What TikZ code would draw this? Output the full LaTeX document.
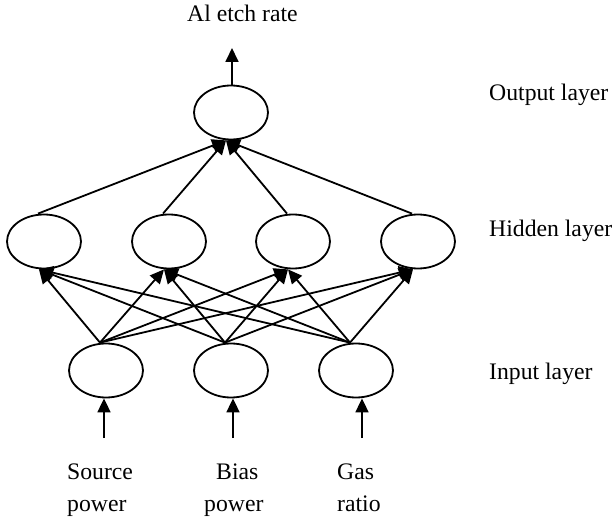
\documentclass[tikz,border=0pt]{standalone}
\usepackage{fontspec}
\setmainfont{Liberation Serif}
\usetikzlibrary{arrows.meta,shapes.geometric}

\begin{document}
\begin{tikzpicture}[x=1pt,y=-1pt,
    neuron/.style={ellipse,draw,line width=1.8pt,minimum width=74pt,minimum height=54pt,inner sep=0pt},
    link/.style={line width=1.8pt,-{Triangle[length=14pt,width=13pt]}},
    lbl/.style={inner sep=0pt,font=\fontsize{23.7}{28}\selectfont}]
  \path[use as bounding box] (0,0) rectangle (614,519);

  % neurons
  \node[neuron] (out) at (231,112.5) {};
  \node[neuron] (h1) at (44,241.5) {};
  \node[neuron] (h2) at (169,241.5) {};
  \node[neuron] (h3) at (293,241.5) {};
  \node[neuron] (h4) at (418,241.5) {};
  \node[neuron] (in1) at (106,370.5) {};
  \node[neuron] (in2) at (231,370.5) {};
  \node[neuron] (in3) at (356,370.5) {};

  % output arrow
  \coordinate (etch) at (232,48);
  \draw[link] ([xshift=1pt]out.north) -- (etch);

  % hidden -> output
  \foreach \h in {h1,h2,h3,h4}
    \draw[link] ([xshift=-6pt]\h.north) -- ([xshift=-5pt]out.south);

  % input -> hidden
  \foreach \i in {in1,in2,in3}
    \foreach \h in {h1,h2,h3,h4}
      \draw[link] ([xshift=-6pt]\i.north) -- ([xshift=-5pt]\h.south);

  % feed arrows into the input layer
  \coordinate (f1) at (104,438);
  \coordinate (f2) at (233,438);
  \coordinate (f3) at (362,438);
  \draw[link] (f1) -- (f1 |- in1.south);
  \draw[link] (f2) -- (f2 |- in2.south);
  \draw[link] (f3) -- (f3 |- in3.south);

  % labels
  \node[lbl,anchor=base west] (rate) at (187,22) {Al etch rate};
  \node[lbl,anchor=base west] (lout) at (489,101) {Output layer};
  \node[lbl,anchor=base west] (lhid) at (489,236) {Hidden layer};
  \node[lbl,anchor=base west] (linp) at (489,379) {Input layer};
  \node[lbl,anchor=base west] (src1) at (67,479) {Source};
  \node[lbl,anchor=base west] (src2) at (67,511) {power};
  \node[lbl,anchor=base west] (bias1) at (216,479) {Bias};
  \node[lbl,anchor=base west] (bias2) at (204,511) {power};
  \node[lbl,anchor=base west] (gas1) at (337,479) {Gas};
  \node[lbl,anchor=base west] (gas2) at (337,511) {ratio};
\end{tikzpicture}
\end{document}
